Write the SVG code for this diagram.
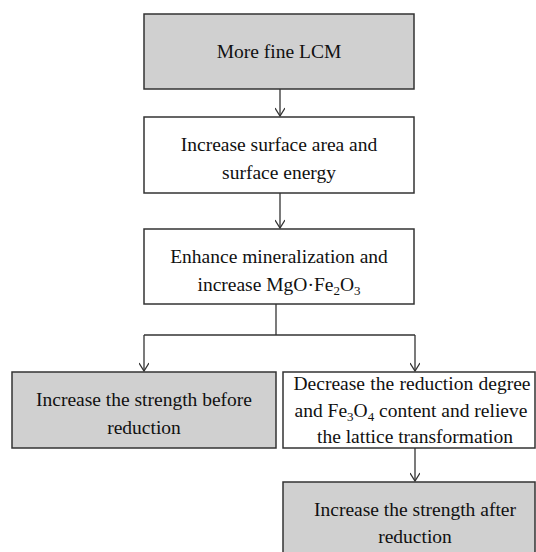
<svg xmlns="http://www.w3.org/2000/svg" width="536" height="552" viewBox="0 0 536 552">
<defs>
<style>
.box{stroke:#333;stroke-width:1.5}
.gray{fill:#d0d0d0}
.white{fill:#fff}
.t{font-family:'Liberation Serif','Times New Roman',Times,serif;font-size:19.5px;fill:#111;text-anchor:middle}
.conn{fill:none;stroke:#333;stroke-width:1.3}
</style>
<marker id="arr" viewBox="0 0 10 10" refX="9" refY="5" markerWidth="10" markerHeight="10" markerUnits="userSpaceOnUse" orient="auto">
<path d="M1,0 L9,5 L1,10" fill="none" stroke="#333" stroke-width="1.3"/>
</marker>
</defs>
<rect width="536" height="552" fill="#fff"/>
<g id="connectors">
<line class="conn" x1="280" y1="89" x2="280" y2="116" marker-end="url(#arr)"/>
<line class="conn" x1="280" y1="193" x2="280" y2="228" marker-end="url(#arr)"/>
<polyline class="conn" points="276,304 276,335"/>
<polyline class="conn" points="144,335 415,335"/>
<line class="conn" x1="144" y1="335" x2="144" y2="371" marker-end="url(#arr)"/>
<line class="conn" x1="415" y1="335" x2="415" y2="371" marker-end="url(#arr)"/>
<line class="conn" x1="415" y1="448" x2="415" y2="481" marker-end="url(#arr)"/>
</g>
<g id="n1">
<rect class="box gray" x="144" y="14" width="270" height="75"/>
<text class="t" x="279" y="58">More fine LCM</text>
</g>
<g id="n2">
<rect class="box white" x="144" y="117" width="270" height="76"/>
<text class="t" x="279" y="151">Increase surface area and</text>
<text class="t" x="279" y="179">surface energy</text>
</g>
<g id="n3">
<rect class="box white" x="144" y="229" width="270" height="75"/>
<text class="t" x="279" y="263">Enhance mineralization and</text>
<text class="t" x="279" y="291">increase MgO·Fe<tspan font-size="13" dy="4">2</tspan><tspan dy="-4">O</tspan><tspan font-size="13" dy="4">3</tspan></text>
</g>
<g id="n4">
<rect class="box gray" x="12" y="372" width="264" height="76"/>
<text class="t" x="144" y="406">Increase the strength before</text>
<text class="t" x="144" y="434">reduction</text>
</g>
<g id="n5">
<rect class="box white" x="283" y="372" width="252" height="76"/>
<text class="t" x="412" y="390" word-spacing="0.5">Decrease the reduction degree</text>
<text class="t" x="411" y="417">and Fe<tspan font-size="13" dy="4">3</tspan><tspan dy="-4">O</tspan><tspan font-size="13" dy="4">4</tspan><tspan dy="-4"> content and relieve</tspan></text>
<text class="t" x="415" y="443">the lattice transformation</text>
</g>
<g id="n6">
<rect class="box gray" x="283" y="482" width="252" height="80"/>
<text class="t" x="415" y="516">Increase the strength after</text>
<text class="t" x="415" y="543">reduction</text>
</g>
</svg>
